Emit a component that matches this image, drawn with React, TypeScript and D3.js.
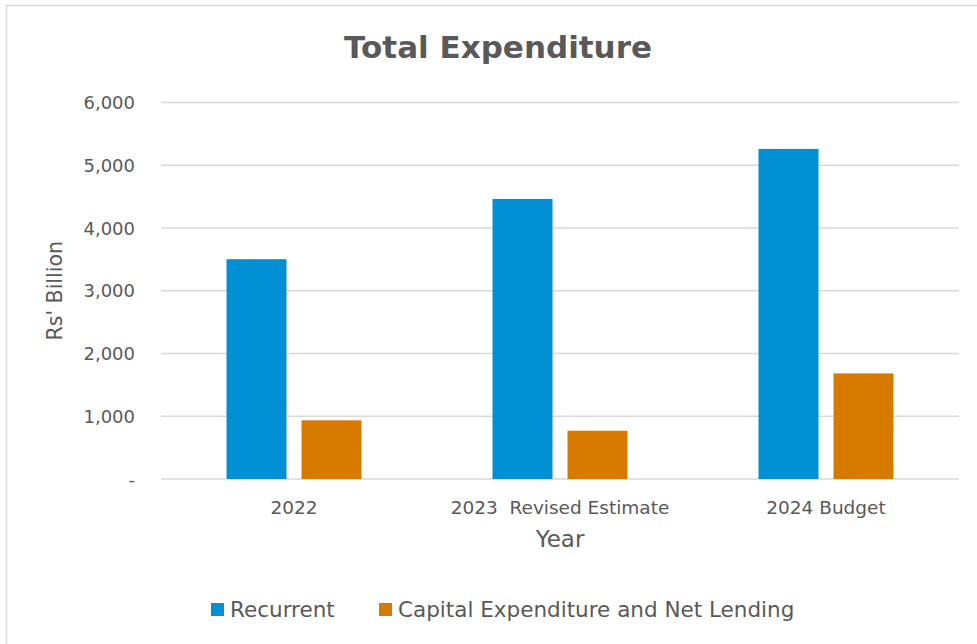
import React, { useEffect, useRef } from "react";
import * as d3 from "d3";

const categories = ["2022", "2023  Revised Estimate", "2024 Budget"];
const seriesNames = ["Recurrent", "Capital Expenditure and Net Lending"];
const recurrent = [3503, 4463, 5260];
const capital = [935, 769, 1683];
const yTicks = [0, 1000, 2000, 3000, 4000, 5000, 6000];
const colors = ["#0290d5", "#d67a00"];

const W = 977;
const H = 644;
const FONT = "'DejaVu Sans', sans-serif";
const TEXT = "#595959";

export default function App() {
  const ref = useRef<SVGSVGElement | null>(null);

  useEffect(() => {
    document.body.style.margin = "0";
    const svg = d3.select(ref.current);
    svg.selectAll("*").remove();

    const left = 161, right = 959, top = 102.5, bottom = 479;
    const x = d3.scaleBand<string>().domain(categories).range([left, right]);
    const y = d3.scaleLinear().domain([0, 6000]).range([bottom, top]);
    const barW = 60, gap = 15;

    svg.append("rect").attr("x", 0).attr("y", 0).attr("width", W).attr("height", H).attr("fill", "#fff");
    svg.append("path").attr("d", `M6.5,${H} V5.5 H${W}`).attr("fill", "none").attr("stroke", "#d9d9d9").attr("stroke-width", 1.5);

    // title
    svg.append("text").attr("x", 498).attr("y", 58).attr("text-anchor", "middle")
      .attr("font-family", FONT).attr("font-weight", "bold").attr("font-size", 31).attr("fill", TEXT)
      .text("Total Expenditure");

    // grid
    svg.append("g").selectAll("line").data(yTicks).join("line")
      .attr("x1", left).attr("x2", right)
      .attr("y1", d => y(d)).attr("y2", d => y(d))
      .attr("stroke", "#d9d9d9").attr("stroke-width", 1.5);

    // y tick labels
    svg.append("g").selectAll("text").data(yTicks).join("text")
      .attr("x", 135).attr("y", d => y(d) + 6.5).attr("text-anchor", "end")
      .attr("font-family", FONT).attr("font-size", 18).attr("fill", TEXT)
      .text(d => (d === 0 ? "-" : d3.format(",")(d)));

    // bars
    const data = categories.map((c, i) => ({ c, vals: [recurrent[i], capital[i]] }));
    const g = svg.append("g");
    data.forEach(d => {
      const cx = (x(d.c) as number) + x.bandwidth() / 2;
      d.vals.forEach((v, j) => {
        const bx = j === 0 ? cx - gap / 2 - barW : cx + gap / 2;
        g.append("rect").attr("x", bx).attr("y", y(v)).attr("width", barW).attr("height", y(0) - y(v))
          .attr("fill", colors[j]);
      });
    });

    // x labels
    svg.append("g").selectAll("text").data(categories).join("text")
      .attr("x", d => (x(d) as number) + x.bandwidth() / 2).attr("y", 514)
      .attr("text-anchor", "middle").attr("xml:space", "preserve")
      .style("white-space", "pre")
      .attr("font-family", FONT).attr("font-size", 18.5).attr("fill", TEXT)
      .text(d => d);

    svg.append("text").attr("x", (left + right) / 2).attr("y", 547).attr("text-anchor", "middle")
      .attr("font-family", FONT).attr("font-size", 23).attr("fill", TEXT).text("Year");

    svg.append("text").attr("transform", `translate(62,${(top + bottom) / 2}) rotate(-90)`)
      .attr("text-anchor", "middle")
      .attr("font-family", FONT).attr("font-size", 20.5).attr("fill", TEXT).text("Rs' Billion");

    // legend
    const legendX = [211, 379];
    seriesNames.forEach((n, i) => {
      svg.append("rect").attr("x", legendX[i]).attr("y", 603).attr("width", 13).attr("height", 13).attr("fill", colors[i]);
      svg.append("text").attr("x", legendX[i] + 19).attr("y", 617)
        .attr("font-family", FONT).attr("font-size", 21.5).attr("fill", TEXT).text(n);
    });
  }, []);

  return <svg ref={ref} width={W} height={H} style={{ display: "block" }} />;
}
